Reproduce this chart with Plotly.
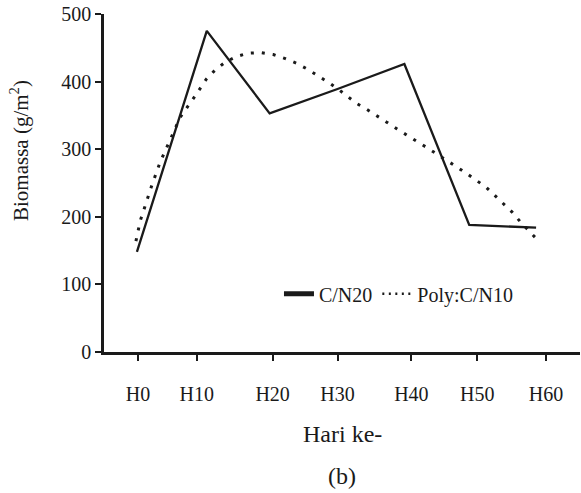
import plotly.graph_objects as go

# Tick categories and their positions on the (non-uniform) x scale
tick_labels = ["H0", "H10", "H20", "H30", "H40", "H50", "H60"]
tick_pos = [3.4, 9.3, 16.9, 23.4, 30.8, 37.4, 44.3]

# Series C/N20 (solid)
cn20_x = [3.3, 10.3, 16.6, 23.4, 30.1, 36.6, 43.3]
cn20_y = [148, 475, 353, 389, 426, 188, 184]

# Series Poly:C/N10 (dotted, fitted curve)
poly_x = [3.2, 3.63, 4.03, 4.8, 5.63, 6.7, 7.63, 9.1, 10.27, 11.13, 12.17, 13.27,
          14.43, 15.7, 16.97, 18.17, 19.33, 20.43, 21.53, 22.57, 23.63, 24.6,
          25.27, 26.33, 27.33, 28.33, 29.37, 30.4, 31.4, 32.4, 33.47, 34.43,
          35.43, 36.43, 37.43, 38.27, 39.13, 40.03, 40.9, 41.7, 42.57, 43.37]
poly_y = [164, 194, 212, 247, 281, 315, 347, 378, 404, 417, 429, 437,
          442, 443, 440, 434, 427, 418, 408, 398, 387, 375,
          368, 359, 349, 340, 330, 321, 311, 302, 292, 283,
          273, 263, 253, 244, 232, 219, 207, 193, 180, 167]

FONT = "Liberation Serif"
INK = "#1a1a1a"

fig = go.Figure()
fig.add_trace(go.Scatter(x=cn20_x, y=cn20_y, mode="lines",
                         line=dict(color=INK, width=2.3),
                         showlegend=False, hoverinfo="skip"))
fig.add_trace(go.Scatter(x=poly_x, y=poly_y, mode="lines",
                         line=dict(color=INK, width=3, dash="3px,8px"),
                         showlegend=False, hoverinfo="skip"))
# legend entries
fig.add_trace(go.Scatter(x=[None], y=[None], mode="lines", name="C/N20",
                         line=dict(color=INK, width=5)))
fig.add_trace(go.Scatter(x=[None], y=[None], mode="lines", name="Poly:C/N10",
                         line=dict(color=INK, width=2.5, dash="2px,4.5px")))

fig.update_layout(
    width=581, height=493,
    margin=dict(l=104, r=1, t=14, b=141),
    paper_bgcolor="white", plot_bgcolor="white",
    font=dict(family=FONT, size=20, color=INK),
    showlegend=True,
    hovermode=False,
    legend=dict(orientation="h", x=0.3676, y=0.172, xanchor="left", yanchor="middle",
                bgcolor="rgba(0,0,0,0)", font=dict(size=20)),
    xaxis=dict(range=[0, 47.7], tickmode="array", tickvals=tick_pos, ticktext=tick_labels,
               showline=True, linecolor=INK, linewidth=2.5,
               ticks="outside", ticklen=6, tickwidth=2, tickcolor=INK,
               ticklabelstandoff=16, showgrid=False, zeroline=False, automargin=False,
               tickfont=dict(size=20)),
    yaxis=dict(range=[0, 500], dtick=100, showline=True, linecolor=INK, linewidth=2.5,
               ticks="outside", ticklen=6, tickwidth=2, tickcolor=INK,
               ticklabelstandoff=0, showgrid=False, zeroline=False, automargin=False,
               tickfont=dict(size=20)),
    annotations=[
        dict(text="Hari ke-", x=0.5, y=(352 - 434) / 338, xref="paper", yref="paper",
             xanchor="center", yanchor="middle", showarrow=False, font=dict(size=24)),
        dict(text="(b)", x=0.5, y=(352 - 476) / 338, xref="paper", yref="paper",
             xanchor="center", yanchor="middle", showarrow=False, font=dict(size=24)),
        dict(text="Biomassa (g/m<sup>2</sup>)", textangle=-90,
             x=(19 - 104) / 476, y=(352 - 151) / 338, xref="paper", yref="paper",
             xanchor="center", yanchor="middle", showarrow=False, font=dict(size=21)),
    ],
)

# remove the default page margin so the figure sits at the window's top-left corner
fig.write_html("out.html",
               config={"displayModeBar": False},
               post_script="document.body.style.margin='0';document.body.style.overflow='hidden';")
